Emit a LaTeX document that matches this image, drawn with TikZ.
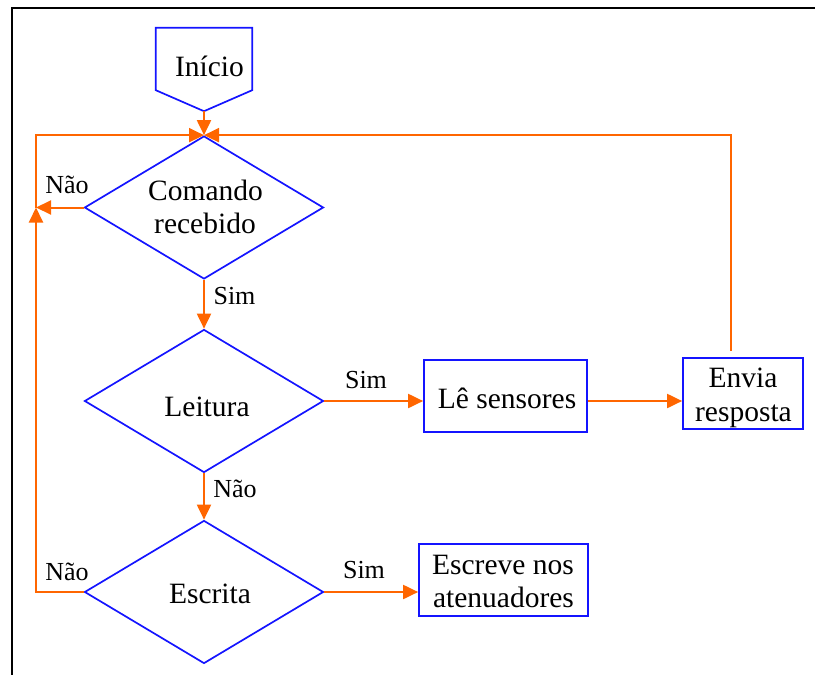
\documentclass[tikz,border=0pt]{standalone}
\usepackage{fontspec}
\setmainfont{Liberation Serif}
\usetikzlibrary{arrows.meta,shapes.geometric,calc}
\definecolor{flowblue}{RGB}{20,20,255}
\definecolor{floworange}{RGB}{255,102,0}
\begin{document}
\begin{tikzpicture}[x=1pt,y=-1pt,
  decision/.style={draw=flowblue, line width=1.7pt, diamond, aspect=1.67,
    minimum width=239pt, minimum height=143pt, inner sep=0pt},
  procbox/.style={draw=flowblue, line width=1.7pt, rectangle, inner sep=0pt},
  flow/.style={draw=floworange, line width=2pt, -{Triangle[length=15pt,width=14pt]}},
  maintext/.style={font=\fontsize{29.5}{34}\selectfont, inner sep=0pt, anchor=base},
  labeltext/.style={font=\fontsize{26}{30}\selectfont, inner sep=0pt, anchor=base},
]
\useasboundingbox (0,0) rectangle (815,675);

% page frame
\draw[line width=2.5pt] (12,675) -- (12,8) -- (815,8);

% start terminal (pentagon pointing down)
\node (start) [minimum width=96pt, minimum height=62pt, inner sep=0pt] at (204,59) {};
\coordinate (starttip) at ($(start.south)+(0,21)$);
\draw[flowblue, line width=1.7pt, line join=miter]
  (start.north west) -- (start.north east) -- (start.south east)
  -- (starttip) -- (start.south west) -- cycle;
\node[maintext] (starttxt) at (209.5,76) {Início};

% decisions
\node[decision] (cmd)   at (204,207.5) {};
\node[decision] (read)  at (204,401) {};
\node[decision] (write) at (204,592) {};
\node[maintext] (cmdtxt1) at (205.5,200) {Comando};
\node[maintext] (cmdtxt2) at (205,233) {recebido};
\node[maintext] (readtxt) at (207,416) {Leitura};
\node[maintext] (writetxt) at (210,603) {Escrita};

% process boxes
\node[procbox, minimum width=163pt, minimum height=72pt] (sens) at (505.5,396) {};
\node[maintext] (senstxt) at (507,408) {Lê sensores};
\node[procbox, minimum width=120pt, minimum height=71pt] (envia) at (743,393.5) {};
\node[maintext] (enviatxt1) at (743,387) {Envia};
\node[maintext] (enviatxt2) at (743.5,421) {resposta};
\node[procbox, minimum width=169pt, minimum height=72pt] (esc) at (503.5,580) {};
\node[maintext] (esctxt1) at (503,574) {Escreve nos};
\node[maintext] (esctxt2) at (503.5,607) {atenuadores};

% connectors
\coordinate (lx) at (36,0);
\coordinate (loopjoin) at (cmd.west -| lx);
\coordinate (envtop) at ([xshift=-12pt,yshift=6pt]envia.north);

\draw[flow] (starttip) -- (cmd.north);
\draw[flow] (cmd.south) -- (read.north);
\draw[flow] (read.east) -- (read.east -| sens.west);
\draw[flow] (read.east -| sens.east) -- (read.east -| envia.west);
\draw[flow] (read.south) -- (write.north);
\draw[flow] (write.east) -- (write.east -| esc.west);
\draw[flow] (cmd.west) -- (loopjoin);
\draw[flow] (write.west) -| (loopjoin);
\draw[flow] (loopjoin) |- (cmd.north);
\draw[flow] (envtop) |- (cmd.north);

% branch labels
\node[labeltext] (l1) at (67,193) {Não};
\node[labeltext] (l2) at (234.5,304) {Sim};
\node[labeltext] (l3) at (366,388) {Sim};
\node[labeltext] (l4) at (235,497) {Não};
\node[labeltext] (l5) at (67,580) {Não};
\node[labeltext] (l6) at (364,578) {Sim};
\end{tikzpicture}
\end{document}
